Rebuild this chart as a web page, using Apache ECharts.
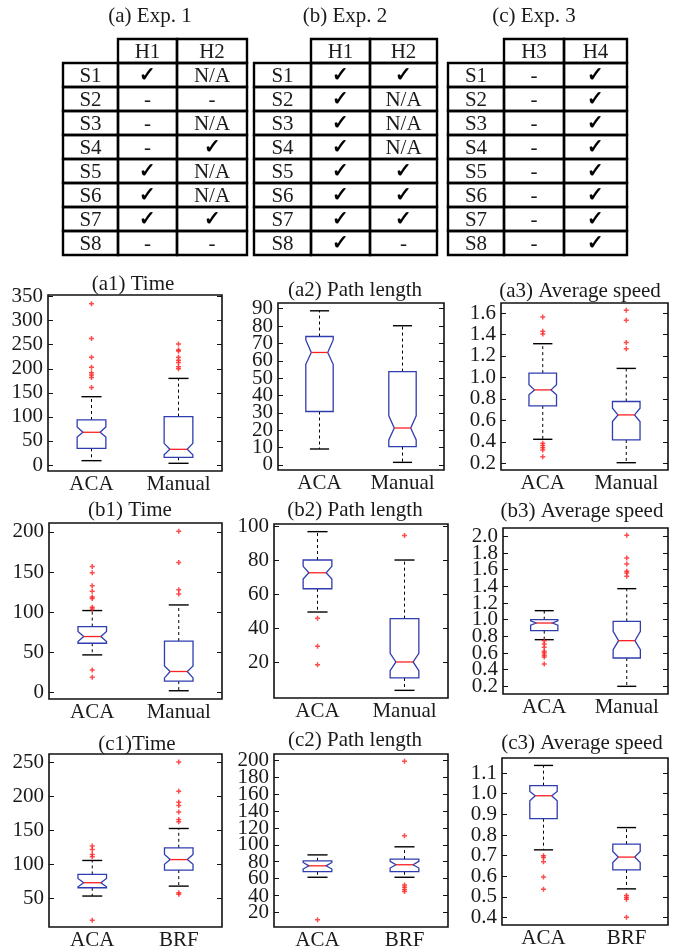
<!DOCTYPE html>
<html><head><meta charset="utf-8">
<script src="https://cdn.jsdelivr.net/npm/echarts@6/dist/echarts.min.js"></script>
<style>html,body{margin:0;padding:0;background:#fff}#main{width:679px;height:951px}</style>
</head><body><div id="main"></div>
<script>
// ---------------- Table data ----------------
const tableRows = ['S1','S2','S3','S4','S5','S6','S7','S8'];
const exp1Title = '(a) Exp. 1';
const exp1Cols = ['H1','H2'];
const exp1H1 = ['✓','-','-','-','✓','✓','✓','-'];
const exp1H2 = ['N/A','-','N/A','✓','N/A','N/A','✓','-'];
const exp2Title = '(b) Exp. 2';
const exp2Cols = ['H1','H2'];
const exp2H1 = ['✓','✓','✓','✓','✓','✓','✓','✓'];
const exp2H2 = ['✓','N/A','N/A','N/A','✓','✓','✓','-'];
const exp3Title = '(c) Exp. 3';
const exp3Cols = ['H3','H4'];
const exp3H3 = ['-','-','-','-','-','-','-','-'];
const exp3H4 = ['✓','✓','✓','✓','✓','✓','✓','✓'];

// ---------------- Box plot data ----------------
// each box: [whiskerLow, q1, notchLow, median, notchHigh, q3, whiskerHigh]
const catsAM = ['ACA','Manual'];
const catsAB = ['ACA','BRF'];

const a1Ticks = [0,50,100,150,200,250,300,350];
const a1Box = [[9,34.7,58,68,79,93.6,142],[3.5,16,21,32.6,45,100.5,180]];
const a1OutACA = [335,263,224,203,192,187,182,161];
const a1OutMan = [251.5,239,237,224,218,213,204,200];

const a2Ticks = [0,10,20,30,40,50,60,70,80,90];
const a2Box = [[9.2,30.8,58,64.8,72,74,88.8],[1.5,10.6,14.4,21.3,28.3,53.8,80.2]];
const a2OutACA = [];
const a2OutMan = [];

const a3Ticks = [0.2,0.4,0.6,0.8,1.0,1.2,1.4,1.6];
const a3Box = [[0.424,0.735,0.838,0.884,0.931,1.04,1.314],[0.206,0.418,0.589,0.651,0.713,0.776,1.084]];
const a3OutACA = [1.563,1.429,1.404,0.387,0.365,0.346,0.324,0.262];
const a3OutMan = [1.625,1.532,1.326,1.267];

const b1Ticks = [0,50,100,150,200];
const b1Box = [[46.7,61.25,63.3,69.6,75.8,82,102],[2,14,18,26,33,64,109]];
const b1OutACA = [157,149,133,126,119,117,106,104,28,18.75];
const b1OutMan = [201,162,128,122.5];

const b2Ticks = [20,40,60,80,100];
const b2Box = [[49.6,63.3,69,72.7,76.5,80.2,96.9],[3.5,10.8,15.1,20.2,25.3,45.7,80.2]];
const b2OutACA = [46,29.4,18.6];
const b2OutMan = [94.7];

const b3Ticks = [0.2,0.4,0.6,0.8,1.0,1.2,1.4,1.6,1.8,2.0];
const b3Box = [[0.76,0.868,0.935,0.96,0.985,1.0,1.108],[0.2,0.54,0.64,0.748,0.86,0.98,1.372]];
const b3OutACA = [0.748,0.708,0.668,0.62,0.6,0.572,0.552,0.468];
const b3OutMan = [2.012,1.74,1.668,1.58,1.56,1.52];

const c1Ticks = [50,100,150,200,250];
const c1Box = [[53.4,65.6,67,73,79.3,85.2,105.7],[68,91.6,100,107,114.5,124.3,152.7]];
const c1OutACA = [126.8,122,114.5,111,17.7];
const c1OutBRF = [250.5,207.5,191.3,186.4,177,166,162.5,58.3,55.9];

const c2Ticks = [20,40,60,80,100,120,140,160,180,200];
const c2Box = [[61.4,68,71.2,75,79,81,88],[61.4,68,72.4,76.3,80.3,83,97.6]];
const c2OutACA = [11];
const c2OutBRF = [199.2,110.6,52.3,49.5,46.8,44.4];

const c3Ticks = [0.4,0.5,0.6,0.7,0.8,0.9,1.0,1.1];
const c3Box = [[0.728,0.879,0.966,0.99,1.011,1.039,1.137],[0.539,0.631,0.667,0.693,0.72,0.756,0.836]];
const c3OutACA = [0.699,0.691,0.67,0.596,0.537];
const c3OutBRF = [0.507,0.497,0.489,0.402];

// ---------------- Styling / layout ----------------
const FONT = '"Liberation Serif", "Times New Roman", serif';
const TXT = '#1a1a1a';
const BLUE = '#2f3db0';
const RED = '#ff2020';

const tables = [
  {title: exp1Title, cols: exp1Cols, c1: exp1H1, c2: exp1H2, left: 63, width: 184, w: [55,59,70], tx: 150},
  {title: exp2Title, cols: exp2Cols, c1: exp2H1, c2: exp2H2, left: 254, width: 183, w: [57,59,67], tx: 345},
  {title: exp3Title, cols: exp3Cols, c1: exp3H3, c2: exp3H4, left: 448, width: 179, w: [56,60,63], tx: 534}
];

const panels = [
  {title:'(a1) Time', cats:catsAM, box:a1Box, o0:a1OutACA, o1:a1OutMan, ticks:a1Ticks, min:-12.5, max:353.4, dec:0, L:48, T:295, R:222, B:471, tx:133, ty:284},
  {title:'(a2) Path length', cats:catsAM, box:a2Box, o0:a2OutACA, o1:a2OutMan, ticks:a2Ticks, min:-2.9, max:93.3, dec:0, L:278, T:303, R:444, B:470, tx:355, ty:290},
  {title:'(a3) Average speed', cats:catsAM, box:a3Box, o0:a3OutACA, o1:a3OutMan, ticks:a3Ticks, min:0.138, max:1.693, dec:1, L:501, T:303, R:668, B:470, tx:580, ty:291},
  {title:'(b1) Time', cats:catsAM, box:b1Box, o0:b1OutACA, o1:b1OutMan, ticks:b1Ticks, min:-8.3, max:211.2, dec:0, L:49, T:523, R:222, B:699, tx:130, ty:510},
  {title:'(b2) Path length', cats:catsAM, box:b2Box, o0:b2OutACA, o1:b2OutMan, ticks:b2Ticks, min:-1, max:101.4, dec:0, L:274, T:524, R:448, B:698, tx:355, ty:510},
  {title:'(b3) Average speed', cats:catsAM, box:b3Box, o0:b3OutACA, o1:b3OutMan, ticks:b3Ticks, min:0.108, max:2.1, dec:1, L:503, T:528, R:668, B:694, tx:582, ty:511},
  {title:'(c1)Time', cats:catsAB, box:c1Box, o0:c1OutACA, o1:c1OutBRF, ticks:c1Ticks, min:7.9, max:262.2, dec:0, L:49, T:754, R:222, B:928, tx:137, ty:744},
  {title:'(c2) Path length', cats:catsAB, box:c2Box, o0:c2OutACA, o1:c2OutBRF, ticks:c2Ticks, min:2.3, max:207.9, dec:0, L:274, T:754, R:448, B:928, tx:355, ty:740},
  {title:'(c3) Average speed', cats:catsAB, box:c3Box, o0:c3OutACA, o1:c3OutBRF, ticks:c3Ticks, min:0.364, max:1.173, dec:1, L:502, T:758, R:668, B:925, tx:582, ty:743}
];

const BOX_FRAC = 0.33, NOTCH_FRAC = 0.6, CAP_FRAC = 0.7;

function renderBox(params, api) {
  const ci = api.value(0);
  const v = [1,2,3,4,5,6,7].map(k => api.value(k));
  const [lowW, q1, nLo, med, nHi, q3, hiW] = v;
  const band = api.size([1, 0])[0];
  const w = band * BOX_FRAC / 2, wn = w * NOTCH_FRAC, wc = w * CAP_FRAC;
  const cx = api.coord([ci, med])[0];
  const y = val => api.coord([ci, val])[1];
  const pts = [[cx-w,y(q1)],[cx-w,y(nLo)],[cx-wn,y(med)],[cx-w,y(nHi)],[cx-w,y(q3)],
               [cx+w,y(q3)],[cx+w,y(nHi)],[cx+wn,y(med)],[cx+w,y(nLo)],[cx+w,y(q1)]];
  const dash = {stroke:'#000', lineWidth:1, lineDash:[3,3]};
  const solid = {stroke:'#000', lineWidth:1.4};
  return {type:'group', children:[
    {type:'line', shape:{x1:cx,y1:y(q3),x2:cx,y2:y(hiW)}, style:dash},
    {type:'line', shape:{x1:cx,y1:y(q1),x2:cx,y2:y(lowW)}, style:dash},
    {type:'line', shape:{x1:cx-wc,y1:y(hiW),x2:cx+wc,y2:y(hiW)}, style:solid},
    {type:'line', shape:{x1:cx-wc,y1:y(lowW),x2:cx+wc,y2:y(lowW)}, style:solid},
    {type:'polygon', shape:{points:pts}, style:{fill:'none', stroke:BLUE, lineWidth:1.3}},
    {type:'line', shape:{x1:cx-wn,y1:y(med),x2:cx+wn,y2:y(med)}, style:{stroke:RED, lineWidth:1.3}}
  ]};
}

const grid = [], xAxis = [], yAxis = [], series = [], graphic = [];

// tables
tables.forEach((t, ti) => {
  grid.push({left: t.left, top: 39, width: t.width, height: 216, show: false});
  xAxis.push({type:'category', gridIndex: grid.length - 1, data: ['', ...t.cols], show: false});
  yAxis.push({type:'category', gridIndex: grid.length - 1, data: ['', ...tableRows], inverse: true, show: false});
  const cells = [];
  const texts = [];
  cells.push([1, 0]); texts.push(t.cols[0]);
  cells.push([2, 0]); texts.push(t.cols[1]);
  tableRows.forEach((r, ri) => {
    cells.push([0, ri+1]); texts.push(r);
    cells.push([1, ri+1]); texts.push(t.c1[ri]);
    cells.push([2, ri+1]); texts.push(t.c2[ri]);
  });
  const weights = t.w;
  series.push({
    type:'custom', xAxisIndex: xAxis.length - 1, yAxisIndex: yAxis.length - 1, data: cells, silent: true,
    renderItem: function(params, api) {
      const c = api.value(0), r = api.value(1);
      const cs = params.coordSys;
      const tot = weights.reduce((a,b)=>a+b,0);
      let x0 = cs.x;
      for (let k = 0; k < c; k++) x0 += cs.width * weights[k] / tot;
      const cw = cs.width * weights[c] / tot;
      const center = api.coord([c, r]);
      const h = api.size([0, 1])[1];
      const y0 = center[1] - h/2;
      const txt = texts[params.dataIndex];
      const isCheck = txt === '✓';
      return {type:'group', children:[
        {type:'rect', shape:{x:x0, y:y0, width:cw, height:h}, style:{fill:'none', stroke:'#000', lineWidth:2.4}},
        {type:'text', x: x0 + cw/2, y: center[1] + 1, style:{text: txt, align:'center', verticalAlign:'middle',
          font: (isCheck ? 'bold 20px ' : '21px ') + FONT, fill: isCheck ? '#000' : TXT}}
      ]};
    }
  });
  graphic.push({type:'text', x: t.tx, y: 16, style:{text: t.title, align:'center', verticalAlign:'middle', font:'21px ' + FONT, fill: TXT}});
});

// box plot panels
panels.forEach((p) => {
  const fmt = val => p.dec ? Number(val).toFixed(p.dec) : String(val);
  const evenTicks = p.ticks.filter((_, i) => i % 2 === 0);
  const oddTicks = p.ticks.filter((_, i) => i % 2 === 1);
  const labelStyle = {fontFamily: FONT, fontSize: 21, color: TXT, margin: 5, formatter: fmt,
    showMinLabel: true, showMaxLabel: true, hideOverlap: false};

  // main grid (frame, boxes, ticks, even labels)
  grid.push({left: p.L, top: p.T, width: p.R - p.L, height: p.B - p.T, show: true,
    borderColor: '#111', borderWidth: 1.6, backgroundColor: 'transparent'});
  const gi = grid.length - 1;
  xAxis.push({type:'category', gridIndex: gi, data: p.cats,
    axisLine:{show:false}, axisTick:{show:false},
    axisLabel:{interval: 0, hideOverlap: false, fontFamily: FONT, fontSize: 21, color: TXT, margin: 3}});
  const xi = xAxis.length - 1;
  yAxis.push({type:'value', gridIndex: gi, min: p.min, max: p.max, position:'left',
    splitLine:{show:false}, axisLine:{show:false},
    axisTick:{show:true, inside:true, length:5, customValues: p.ticks, lineStyle:{color:'#111'}},
    axisLabel:Object.assign({customValues: evenTicks}, labelStyle)});
  const yi = yAxis.length - 1;
  yAxis.push({type:'value', gridIndex: gi, min: p.min, max: p.max, position:'right',
    splitLine:{show:false}, axisLine:{show:false},
    axisTick:{show:true, inside:true, length:5, customValues: p.ticks, lineStyle:{color:'#111'}},
    axisLabel:{show:false, customValues: p.ticks}});

  // overlay grid carrying the odd tick labels (same rectangle, same scale)
  grid.push({left: p.L, top: p.T, width: p.R - p.L, height: p.B - p.T, show: false});
  const gj = grid.length - 1;
  xAxis.push({type:'category', gridIndex: gj, data: p.cats, show: false});
  yAxis.push({type:'value', gridIndex: gj, min: p.min, max: p.max, position:'left',
    splitLine:{show:false}, axisLine:{show:false}, axisTick:{show:false},
    axisLabel:Object.assign({customValues: oddTicks, show: oddTicks.length > 0}, labelStyle)});

  series.push({type:'custom', xAxisIndex: xi, yAxisIndex: yi, renderItem: renderBox,
    encode:{x:0, y:[1,2,3,4,5,6,7]},
    data: p.box.map((b, k) => [k, ...b]), silent: true, z: 3});
  const outs = p.o0.map(v => [0, v]).concat(p.o1.map(v => [1, v]));
  series.push({type:'scatter', xAxisIndex: xi, yAxisIndex: yi, data: outs, silent: true, z: 4,
    symbol: 'path://M-0.3,-1H0.3V-0.3H1V0.3H0.3V1H-0.3V0.3H-1V-0.3H-0.3Z', symbolSize: 5,
    itemStyle:{color: RED}});
  graphic.push({type:'text', x: p.tx, y: p.ty, style:{text: p.title, align:'center', verticalAlign:'middle', font:'21px ' + FONT, fill: TXT}});
});

const chart = echarts.init(document.getElementById('main'), null, {renderer:'canvas'});
chart.setOption({animation:false, backgroundColor:'#fff', grid, xAxis, yAxis, series, graphic});
</script>
</body></html>
